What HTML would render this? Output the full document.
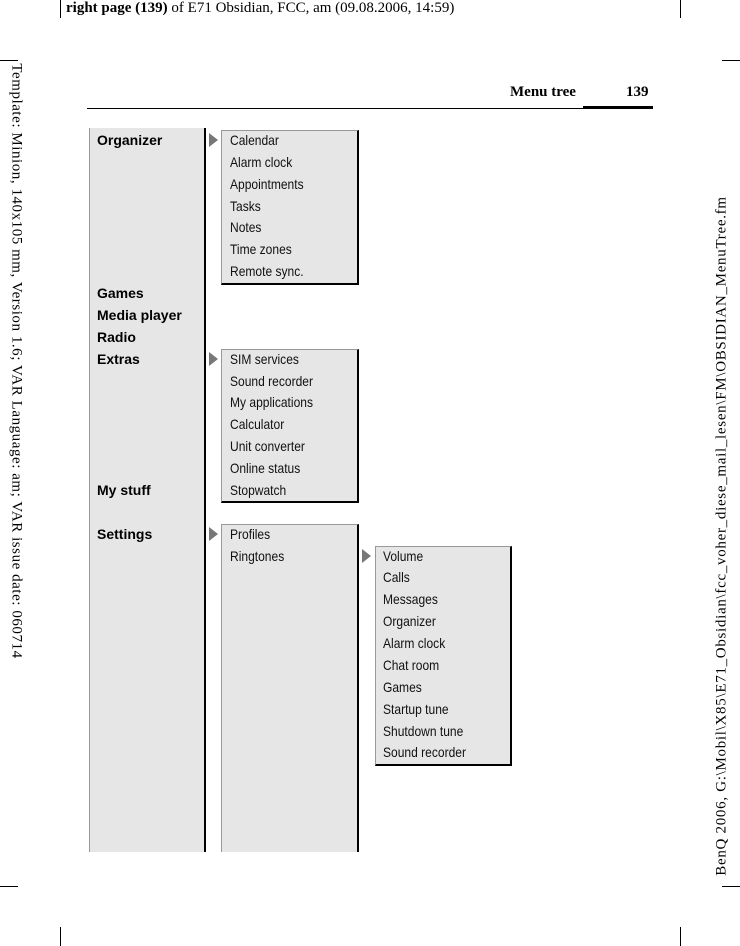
<!DOCTYPE html>
<html><head><meta charset="utf-8"><style>
body{margin:0;width:740px;height:946px;position:relative;background:#fff;overflow:hidden}
.a{position:absolute}
.ser{font-family:"Liberation Serif",serif;color:#000}
.bx{position:absolute;background:#e6e6e6;box-sizing:border-box}
.t{position:absolute;font-family:"Liberation Sans",sans-serif;font-size:14px;color:#111;white-space:nowrap;line-height:16px;transform:scaleX(0.86);transform-origin:0 0}
.b{position:absolute;font-family:"Liberation Sans",sans-serif;font-weight:bold;font-size:14px;color:#000;white-space:nowrap;line-height:16px}
.tri{position:absolute;width:0;height:0;border-top:7px solid transparent;border-bottom:7px solid transparent;border-left:9px solid #777}
</style></head><body>
<div class="a" style="left:60px;top:0;width:1px;height:18px;background:#000"></div>
<div class="a" style="left:680px;top:0;width:1px;height:18px;background:#000"></div>
<div class="a" style="left:0;top:60px;width:18px;height:1px;background:#000"></div>
<div class="a" style="left:722px;top:60px;width:18px;height:1px;background:#000"></div>
<div class="a" style="left:0;top:886px;width:18px;height:1px;background:#000"></div>
<div class="a" style="left:722px;top:886px;width:18px;height:1px;background:#000"></div>
<div class="a" style="left:60px;top:927px;width:1px;height:19px;background:#000"></div>
<div class="a" style="left:680px;top:927px;width:1px;height:19px;background:#000"></div>
<div class="a ser" style="left:66px;top:0px;font-size:15px;white-space:nowrap"><b>right page (139)</b> of E71 Obsidian, FCC, am (09.08.2006, 14:59)</div>
<div class="a ser" style="left:16px;top:361px;width:0;height:0"><div style="position:absolute;transform:translate(-50%,-50%) rotate(90deg);font-size:15px;white-space:nowrap;letter-spacing:0.55px">Template: Minion, 140x105 mm, Version 1.6; VAR Language: am; VAR issue date: 060714</div></div>
<div class="a ser" style="left:722px;top:536px;width:0;height:0"><div style="position:absolute;transform:translate(-50%,-50%) rotate(-90deg);font-size:15px;white-space:nowrap;letter-spacing:0.7px">BenQ 2006, G:\Mobil\X85\E71_Obsidian\fcc_voher_diese_mail_lesen\FM\OBSIDIAN_MenuTree.fm</div></div>
<div class="a ser" style="left:510px;top:84px;font-size:15px;font-weight:bold">Menu tree</div>
<div class="a ser" style="left:626px;top:84px;font-size:15px;font-weight:bold">139</div>
<div class="a" style="left:87px;top:108px;width:566px;height:1px;background:#000"></div>
<div class="a" style="left:583px;top:106px;width:70px;height:3px;background:#000"></div>
<div class="bx" style="left:89px;top:128px;width:117px;height:724px;border-left:1px solid #999;border-right:2px solid #000"></div>
<div class="b" style="left:97px;top:132px">Organizer</div>
<div class="b" style="left:97px;top:285px">Games</div>
<div class="b" style="left:97px;top:307px">Media player</div>
<div class="b" style="left:97px;top:329px">Radio</div>
<div class="b" style="left:97px;top:351px">Extras</div>
<div class="b" style="left:97px;top:482px">My stuff</div>
<div class="b" style="left:97px;top:526px">Settings</div>
<div class="tri" style="left:209px;top:133px"></div>
<div class="tri" style="left:209px;top:352px"></div>
<div class="tri" style="left:209px;top:527px"></div>
<div class="tri" style="left:362px;top:549px"></div>
<div class="bx" style="left:221px;top:130px;width:138px;height:155px;border-left:1px solid #999;border-top:1px solid #999;border-right:2px solid #000;border-bottom:2px solid #000"></div>
<div class="t" style="left:230px;top:132px">Calendar</div>
<div class="t" style="left:230px;top:154px">Alarm clock</div>
<div class="t" style="left:230px;top:176px">Appointments</div>
<div class="t" style="left:230px;top:198px">Tasks</div>
<div class="t" style="left:230px;top:219px">Notes</div>
<div class="t" style="left:230px;top:241px">Time zones</div>
<div class="t" style="left:230px;top:263px">Remote sync.</div>
<div class="bx" style="left:221px;top:349px;width:138px;height:154px;border-left:1px solid #999;border-top:1px solid #999;border-right:2px solid #000;border-bottom:2px solid #000"></div>
<div class="t" style="left:230px;top:351px">SIM services</div>
<div class="t" style="left:230px;top:373px">Sound recorder</div>
<div class="t" style="left:230px;top:394px">My applications</div>
<div class="t" style="left:230px;top:416px">Calculator</div>
<div class="t" style="left:230px;top:438px">Unit converter</div>
<div class="t" style="left:230px;top:460px">Online status</div>
<div class="t" style="left:230px;top:482px">Stopwatch</div>
<div class="bx" style="left:221px;top:524px;width:138px;height:328px;border-left:1px solid #999;border-top:1px solid #999;border-right:2px solid #000"></div>
<div class="t" style="left:230px;top:526px">Profiles</div>
<div class="t" style="left:230px;top:548px">Ringtones</div>
<div class="bx" style="left:375px;top:546px;width:137px;height:220px;border-left:1px solid #999;border-top:1px solid #999;border-right:2px solid #000;border-bottom:2px solid #000"></div>
<div class="t" style="left:383px;top:548px">Volume</div>
<div class="t" style="left:383px;top:569px">Calls</div>
<div class="t" style="left:383px;top:591px">Messages</div>
<div class="t" style="left:383px;top:613px">Organizer</div>
<div class="t" style="left:383px;top:635px">Alarm clock</div>
<div class="t" style="left:383px;top:657px">Chat room</div>
<div class="t" style="left:383px;top:679px">Games</div>
<div class="t" style="left:383px;top:701px">Startup tune</div>
<div class="t" style="left:383px;top:723px">Shutdown tune</div>
<div class="t" style="left:383px;top:744px">Sound recorder</div>
</body></html>
